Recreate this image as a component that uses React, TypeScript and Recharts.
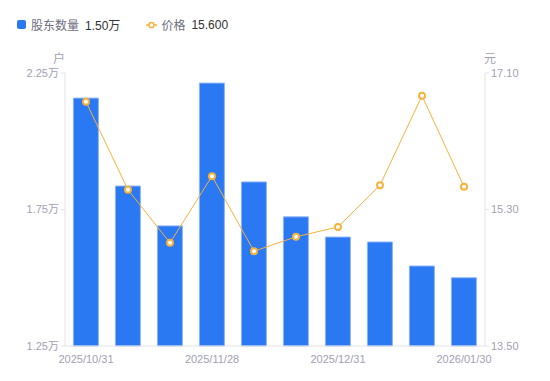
import React from "react";
import {
  Bar,
  ComposedChart,
  Line,
  XAxis,
  YAxis,
} from "recharts";

const dates = [
  "2025/10/31",
  "2025/11/10",
  "2025/11/20",
  "2025/11/28",
  "2025/12/10",
  "2025/12/19",
  "2025/12/31",
  "2026/01/09",
  "2026/01/20",
  "2026/01/30",
];
const holders = [2.158, 1.836, 1.69, 2.213, 1.851, 1.723, 1.649, 1.631, 1.543, 1.5];
const prices = [16.72, 15.56, 14.86, 15.74, 14.75, 14.94, 15.07, 15.62, 16.8, 15.6];
const leftTicks = [1.25, 1.75, 2.25];
const rightTicks = [13.5, 15.3, 17.1];

const data = dates.map((d, i) => ({ date: d, holders: holders[i], price: prices[i] }));

const font = "'Liberation Sans', 'Noto Sans CJK SC', sans-serif";
const tickStyle = { fontSize: 11, fill: "#a1a1b3", fontFamily: font };

const App = () => {
  return (
    <div
      style={{
        position: "absolute",
        left: 0,
        top: 0,
        width: 550,
        height: 381,
        background: "#fff",
        fontFamily: font,
      }}
    >
      <div style={{ position: "absolute", left: 17, top: 16, fontSize: 12, display: "flex", alignItems: "center", whiteSpace: "nowrap" }}>
        <span style={{ width: 9, height: 9, background: "#2a78f2", borderRadius: 2, display: "inline-block", marginRight: 5 }} />
        <span style={{ color: "#6e6e80" }}>股东数量</span>
        <span style={{ color: "#333", marginLeft: 6 }}>1.50万</span>
        <svg width={11} height={10} style={{ marginLeft: 26, marginRight: 4 }}>
          <line x1={0} y1={5} x2={11} y2={5} stroke="#f7b23b" strokeWidth={1.5} />
          <circle cx={5.5} cy={5} r={2.6} fill="#fff" stroke="#f7b23b" strokeWidth={1.5} />
        </svg>
        <span style={{ color: "#6e6e80" }}>价格</span>
        <span style={{ color: "#333", marginLeft: 6 }}>15.600</span>
      </div>
      <span style={{ position: "absolute", left: 53, top: 49, fontSize: 12, color: "#a1a1b3" }}>户</span>
      <span style={{ position: "absolute", left: 484, top: 49, fontSize: 12, color: "#a1a1b3" }}>元</span>
      <ComposedChart
        width={550}
        height={381}
        data={data}
        barCategoryGap="20%"
        margin={{ top: 73, right: 0, bottom: 15, left: 0 }}
      >
        <XAxis
          dataKey="date"
          interval={2}
          tick={tickStyle}
          tickLine={false}
          axisLine={{ stroke: "#e3e3e8" }}
          height={20}
          tickMargin={3}
        />
        <YAxis
          yAxisId="left"
          width={65}
          domain={[1.25, 2.25]}
          ticks={leftTicks}
          tickFormatter={(v: number) => `${v.toFixed(2)}万`}
          tick={tickStyle}
          tickSize={4}
          tickLine={{ stroke: "#e3e3e8" }}
          axisLine={{ stroke: "#e3e3e8" }}
          tickMargin={2}
        />
        <YAxis
          yAxisId="right"
          orientation="right"
          width={65}
          domain={[13.5, 17.1]}
          ticks={rightTicks}
          tickFormatter={(v: number) => v.toFixed(2)}
          tick={tickStyle}
          tickSize={4}
          tickLine={{ stroke: "#e3e3e8" }}
          axisLine={{ stroke: "#e3e3e8" }}
          tickMargin={2}
        />
        <Bar
          yAxisId="left"
          dataKey="holders"
          fill="#2a78f2"
          stroke="#8db5f7"
          strokeWidth={1}
          isAnimationActive={false}
        />
        <Line
          yAxisId="right"
          dataKey="price"
          type="linear"
          stroke="#f7b23b"
          strokeWidth={1}
          dot={{ r: 3, fill: "#fff", stroke: "#f7b23b", strokeWidth: 2 }}
          isAnimationActive={false}
        />
      </ComposedChart>
    </div>
  );
};

export default App;
